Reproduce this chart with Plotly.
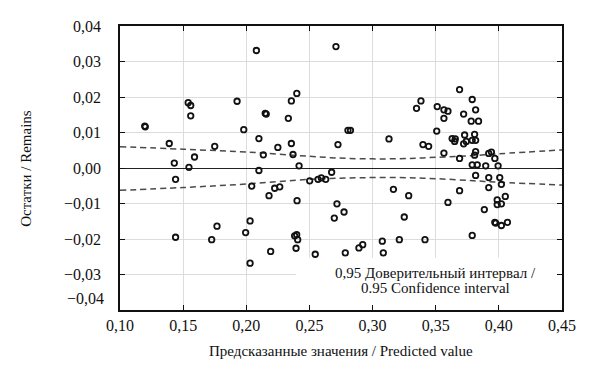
import plotly.graph_objects as go

# Residual points (predicted value, residual)
pred = [0.1196, 0.1200, 0.154, 0.156, 0.156, 0.139, 0.175, 0.143, 0.159, 0.1546,
        0.144, 0.1768, 0.144, 0.1726, 0.208, 0.271, 0.1927, 0.2357, 0.240, 0.215,
        0.2158, 0.2333, 0.198, 0.210, 0.2357, 0.225, 0.2135, 0.237, 0.2418, 0.210,
        0.2726, 0.2043, 0.218, 0.2225, 0.2265, 0.2502, 0.2568, 0.2594, 0.2629, 0.2676,
        0.2402, 0.2718, 0.2697, 0.203, 0.1995, 0.2383, 0.2399, 0.2407, 0.2394, 0.2193,
        0.2546, 0.203, 0.2805, 0.2825, 0.313, 0.3348, 0.3383, 0.3399, 0.3444, 0.3512,
        0.3565, 0.3597, 0.3565, 0.3508, 0.3565, 0.2774, 0.3165, 0.3286, 0.3251, 0.2784,
        0.2892, 0.2922, 0.3077, 0.3085, 0.3212, 0.3415, 0.3597, 0.3689, 0.3789, 0.3721,
        0.3816, 0.3781, 0.3839, 0.3729, 0.3808, 0.3630, 0.3655, 0.3650, 0.3721, 0.3742,
        0.3789, 0.3816, 0.3816, 0.3808, 0.3689, 0.3789, 0.3829, 0.3896, 0.3920, 0.3941,
        0.3968, 0.3994, 0.3816, 0.3920, 0.4007, 0.3920, 0.4020, 0.3689, 0.3987, 0.4051,
        0.4020, 0.3987, 0.3885, 0.3968, 0.3975, 0.4020, 0.4068, 0.3789]
resid = [0.0118, 0.0116, 0.0184, 0.0176, 0.0147, 0.0069, 0.0061, 0.0014, 0.0031, 0.0002,
         -0.0032, -0.0164, -0.0195, -0.0202, 0.0331, 0.0342, 0.0188, 0.0189, 0.0210, 0.0154,
         0.0152, 0.0140, 0.0108, 0.0083, 0.0069, 0.0058, 0.0037, 0.0038, 0.0006, -0.0007,
         0.0066, -0.0051, -0.0078, -0.0057, -0.0053, -0.0036, -0.0032, -0.0028, -0.0032, -0.0012,
         -0.0092, -0.0101, -0.0141, -0.0149, -0.0182, -0.0191, -0.0188, -0.0202, -0.0226, -0.0235,
         -0.0243, -0.0268, 0.0106, 0.0106, 0.0082, 0.0168, 0.0189, 0.0066, 0.0061, 0.0173,
         0.0164, 0.0160, 0.0140, 0.0104, 0.0042, -0.0124, -0.0060, -0.0078, -0.0138, -0.0239,
         -0.0225, -0.0216, -0.0206, -0.0239, -0.0202, -0.0202, -0.0097, 0.0221, 0.0193, 0.0152,
         0.0164, 0.0132, 0.0132, 0.0093, 0.0095, 0.0083, 0.0082, 0.0075, 0.0068, 0.0075,
         0.0078, 0.0078, 0.0046, 0.0036, 0.0027, 0.0009, 0.0009, 0.0006, 0.0041, 0.0045,
         0.0027, 0.0006, -0.0021, -0.0027, -0.0027, -0.0055, -0.0046, -0.0064, -0.0090, -0.0080,
         -0.0101, -0.0103, -0.0117, -0.0153, -0.0155, -0.0162, -0.0153, -0.0190]

# 95% confidence band
band_x = [0.10, 0.15, 0.20, 0.25, 0.28, 0.32, 0.35, 0.38, 0.40, 0.45]
band_upper = [0.0060, 0.0053, 0.0045, 0.0033, 0.0027, 0.0026, 0.0030, 0.0035, 0.0040, 0.0051]
band_lower = [-0.0063, -0.0055, -0.0045, -0.0032, -0.0028, -0.0027, -0.0030, -0.0036, -0.0040, -0.0048]

x_ticks = [0.10, 0.15, 0.20, 0.25, 0.30, 0.35, 0.40, 0.45]
x_ticktext = ["0,10", "0,15", "0,20", "0,25", "0,30", "0,35", "0,40", "0,45"]
y_ticks = [-0.03, -0.02, -0.01, 0.0, 0.01, 0.02, 0.03, 0.04]
y_ticktext = ["\u22120,03", "\u22120,02", "\u22120,01", "0,00", "0,01", "0,02", "0,03", "0,04"]

legend_lines = ["0,95 Доверительный интервал /", "0.95 Confidence interval"]

FONT = "Liberation Serif"
TXT = "#111111"

fig = go.Figure()
for yb in (band_upper, band_lower):
    fig.add_trace(go.Scatter(x=band_x, y=yb, mode="lines", line_shape="spline",
                             line=dict(color="#4a4a4a", width=1.5, dash="6px,4px"),
                             hoverinfo="skip", showlegend=False))
fig.add_trace(go.Scatter(x=pred, y=resid, mode="markers", showlegend=False,
                         marker=dict(symbol="circle-open", size=5.5, color="#111111",
                                     line=dict(width=1.8, color="#111111"))))

axis_common = dict(showline=True, linecolor="#111111", linewidth=1.5, mirror="ticks",
                   ticks="inside", ticklen=5, tickcolor="#111111", tickwidth=1,
                   showgrid=True, gridcolor="#dcdcdc", gridwidth=1,
                   tickfont=dict(family=FONT, size=16, color=TXT))

fig.update_xaxes(range=[0.10, 0.45], tickvals=x_ticks, ticktext=x_ticktext,
                 zeroline=False, ticklabelstandoff=0, **axis_common)
fig.update_yaxes(range=[-0.04, 0.04], tickvals=y_ticks, ticktext=y_ticktext,
                 zeroline=True, zerolinecolor="#222222", zerolinewidth=1.4,
                 ticklabelstandoff=14, **axis_common)

# white box behind the legend text
fig.add_shape(type="rect", xref="x", yref="y", x0=0.2395, x1=0.4495, y0=-0.0399, y1=-0.0253,
              fillcolor="white", line=dict(width=0), layer="between")

for txt, yv in zip(legend_lines, [-0.0297, -0.0338]):
    fig.add_annotation(x=0.3495, y=yv, xref="x", yref="y", showarrow=False, text=txt,
                       xanchor="center", yanchor="middle",
                       font=dict(family=FONT, size=15, color=TXT))
fig.add_annotation(x=0.10, y=-0.04, xref="x", yref="y", showarrow=False,
                   text="\u22120,04", xanchor="right", xshift=-14, yshift=12,
                   font=dict(family=FONT, size=16, color=TXT))
fig.add_annotation(x=0.5, y=-0.144, xref="paper", yref="paper", showarrow=False,
                   text="Предсказанные значения / Predicted value",
                   xanchor="center", yanchor="middle",
                   font=dict(family=FONT, size=15, color=TXT))
fig.add_annotation(x=-0.213, y=0.5, xref="paper", yref="paper", showarrow=False,
                   text="Остатки / Remains", textangle=-90,
                   xanchor="center", yanchor="middle",
                   font=dict(family=FONT, size=15, color=TXT))

# page body has an 8px default margin, so margins are offset by 8px
fig.update_layout(width=597, height=371, margin=dict(l=112, r=43, t=10, b=69),
                  plot_bgcolor="white", paper_bgcolor="white", showlegend=False)

fig.write_html("out.html")
